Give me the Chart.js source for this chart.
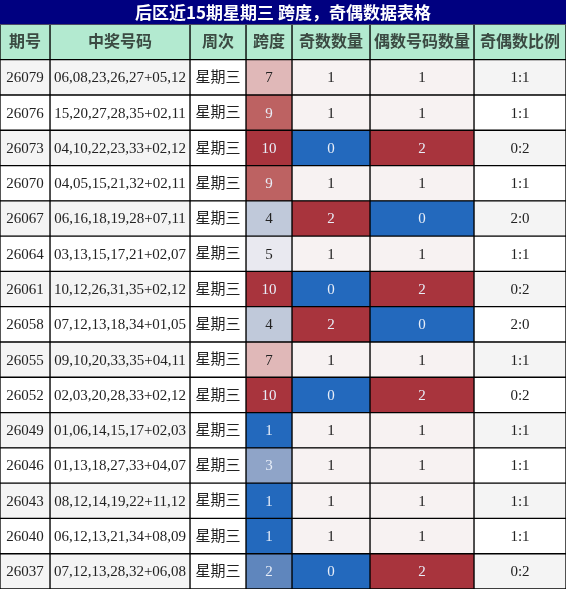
<!DOCTYPE html>
<html>
<head>
<meta charset="utf-8">
<script src="https://cdn.jsdelivr.net/npm/chart.js@4"></script>
<style>
  body { margin: 0; background: #fff; }
  #wrap { width: 566px; height: 589px; }
</style>
</head>
<body>
<div id="wrap"><canvas id="tabla"></canvas></div>
<script>
// datos de la tabla
let titulo = "后区近15期星期三 跨度，奇偶数据表格";
let encabezados = ["期号", "中奖号码", "周次", "跨度", "奇数数量", "偶数号码数量", "奇偶数比例"];
let periodos = ["26079","26076","26073","26070","26067","26064","26061","26058","26055","26052","26049","26046","26043","26040","26037"];
let numeros = ["06,08,23,26,27+05,12","15,20,27,28,35+02,11","04,10,22,23,33+02,12","04,05,15,21,32+02,11",
  "06,16,18,19,28+07,11","03,13,15,17,21+02,07","10,12,26,31,35+02,12","07,12,13,18,34+01,05",
  "09,10,20,33,35+04,11","02,03,20,28,33+02,12","01,06,14,15,17+02,03","01,13,18,27,33+04,07",
  "08,12,14,19,22+11,12","06,12,13,21,34+08,09","07,12,13,28,32+06,08"];
let semana = periodos.map(() => "星期三");
let spans = [7, 9, 10, 9, 4, 5, 10, 4, 7, 10, 1, 3, 1, 1, 2];
let impares = [1, 1, 0, 1, 2, 1, 0, 2, 1, 0, 1, 1, 1, 1, 0];
let pares = [1, 1, 2, 1, 0, 1, 2, 0, 1, 2, 1, 1, 1, 1, 2];
let ratios = ["1:1","1:1","0:2","1:1","2:0","1:1","0:2","2:0","1:1","0:2","1:1","1:1","1:1","1:1","0:2"];

// bordes de columnas (px)
let bordes = [0, 50, 190, 246, 292, 370, 474, 566];

// colores
let colorSpan = {1:"#2369bd", 2:"#5f86bd", 3:"#8fa4c8", 4:"#c0c9da", 5:"#e9e9f0", 7:"#e0b8b8", 9:"#bd6262", 10:"#a8343d"};
let colorCuenta = {0:"#2369bd", 1:"#f7f2f2", 2:"#a8343d"};
let oscuro = c => ["#2369bd","#5f86bd","#8fa4c8","#bd6262","#a8343d"].includes(c);

let columnas = [periodos, numeros, semana, spans, impares, pares, ratios];
let filas = ["h"].concat(periodos);

let fondo = (col, fila) => {
  if (fila === 0) return "#b3ead0";
  let i = fila - 1;
  if (col === 3) return colorSpan[spans[i]];
  if (col === 4) return colorCuenta[impares[i]];
  if (col === 5) return colorCuenta[pares[i]];
  if (col === 2) return "#ffffff";
  return i % 2 === 0 ? "#f4f4f4" : "#ffffff";
};

let datasets = columnas.map((vals, c) => ({
  label: encabezados[c],
  data: filas.map(() => [bordes[c], bordes[c + 1]]),
  backgroundColor: filas.map((f, r) => fondo(c, r)),
  borderColor: "#000",
  borderWidth: 1,
  borderSkipped: false,
  grouped: false,
  barPercentage: 1,
  categoryPercentage: 1
}));

let fondoTitulo = {
  id: "fondoTitulo",
  beforeDraw: (chart) => {
    let ctx = chart.ctx;
    ctx.save();
    ctx.fillStyle = "#000080";
    ctx.fillRect(0, 0, chart.width, chart.chartArea.top);
    ctx.restore();
  }
};

let textos = {
  id: "textos",
  afterDatasetsDraw: (chart) => {
    let ctx = chart.ctx;
    ctx.save();
    ctx.textAlign = "center";
    ctx.textBaseline = "middle";
    chart.data.datasets.forEach((ds, c) => {
      chart.getDatasetMeta(c).data.forEach((el, r) => {
        let p = el.getCenterPoint();
        let txt, color, dy = 1;
        if (r === 0) {
          txt = encabezados[c];
          color = "#3b4a42";
          ctx.font = "bold 16px 'Noto Sans CJK SC'";
          dy = -1;
        } else {
          txt = String(columnas[c][r - 1]);
          let bg = ds.backgroundColor[r];
          color = oscuro(bg) ? "#e8eef8" : "#222";
          if (c === 2) {
            ctx.font = "15px 'Noto Sans CJK SC'";
            dy = -1;
          } else {
            ctx.font = "15px 'Liberation Serif'";
          }
        }
        ctx.fillStyle = color;
        ctx.fillText(txt, p.x, p.y + dy);
      });
    });
    ctx.restore();
  }
};

new Chart(document.getElementById("tabla"), {
  type: "bar",
  data: { labels: filas, datasets: datasets },
  options: {
    indexAxis: "y",
    responsive: true,
    maintainAspectRatio: false,
    animation: false,
    layout: { padding: 0 },
    scales: {
      x: { type: "linear", min: 0, max: 566, display: false },
      y: { display: false }
    },
    plugins: {
      legend: { display: false },
      tooltip: { enabled: false },
      title: {
        display: true,
        text: titulo,
        color: "#fff",
        font: { size: 17, weight: "bold", family: "'Noto Sans CJK SC'" },
        padding: { top: 2, bottom: 2 }
      }
    }
  },
  plugins: [fondoTitulo, textos]
});
</script>
</body>
</html>
